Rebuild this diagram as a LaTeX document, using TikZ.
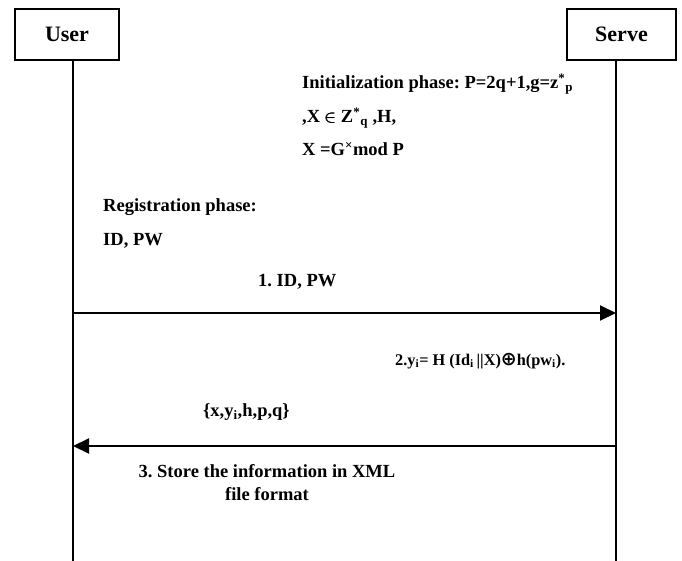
\documentclass[tikz,border=0pt]{standalone}
\usepackage{amsmath, amssymb}
\usepackage{fontspec}
\setmainfont{Liberation Serif}
\newfontfamily\symfont{DejaVu Sans}
\usepackage{tikz}
\usetikzlibrary{positioning, arrows.meta}

\begin{document}
\frenchspacing
\begin{tikzpicture}[x=1pt, y=-1pt,
					>={Triangle[length=16pt, width=15pt]},
					font=\fontsize{18.5}{23}\selectfont\bfseries,
					actor/.style={draw, line width=1.4pt, minimum height=51pt, inner sep=0pt,
						font=\fontsize{22}{26}\selectfont\bfseries},
					lifeline/.style={line width=1.4pt},
					msg/.style={->, line width=2pt},
					txt/.style={anchor=base west, inner sep=0pt}]

	\useasboundingbox (0,0) rectangle (682,561);

	\node[actor, minimum width=104pt] (user) at (67,34.5) {User};
	\node[actor, minimum width=109pt] (serve) at (621.5,34.5) {Serve};
	\coordinate (uend) at (73,561);
	\coordinate (send) at (616,561);
	\draw[lifeline] (user.south -| uend) -- (uend);
	\draw[lifeline] (serve.south -| send) -- (send);

	% messages
	\coordinate (u1) at (73,313);
	\coordinate (s1) at (616,313);
	\coordinate (u2) at (73,446);
	\coordinate (s2) at (616,446);
	\draw[msg] (u1) -- (s1);
	\draw[msg] (s2) -- (u2);

	\node[txt] (init) at (302,89) {Initialization phase: P=2q+1,g=z\textsuperscript{*}\textsubscript{p}};
	\node[txt] (grp) at (302,123) {,X $\pmb{\in}$ Z\textsuperscript{*}\textsubscript{q} ,H,};
	\node[txt] (pub) at (302,156) {X =G\textsuperscript{\texttimes}mod P};
	\node[txt] (reg) at (103,212) {Registration phase:};
	\node[txt] (cred) at (103,246) {ID, PW};
	\node[txt] (m1) at (258,286) {1. ID, PW};
	\node[txt, font=\fontsize{16.3}{19}\selectfont\bfseries] (m2) at (395,365)
		{2.y\textsubscript{i}= H (Id\textsubscript{i}\,||X){\symfont\bfseries\fontsize{19}{21}\selectfont ⊕}h(pw\textsubscript{i}).};
	\node[txt] (m3) at (203,416) {\{x,y\textsubscript{i},h,p,q\}};
	\node[align=center, inner sep=0pt, anchor=base] (store) at (267,500)
		{3. Store the information in XML\\file format};
\end{tikzpicture}
\end{document}
